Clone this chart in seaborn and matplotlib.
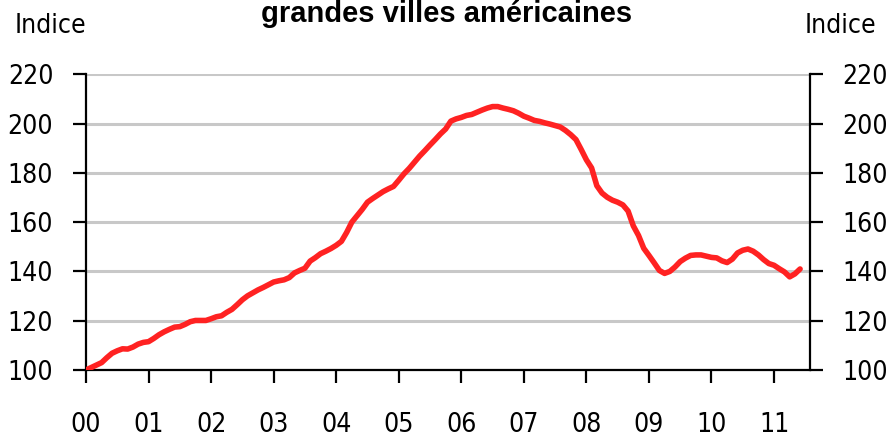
import matplotlib
matplotlib.use("Agg")
import matplotlib.pyplot as plt
import seaborn as sns
import pandas as pd
from matplotlib import font_manager

# Indice Case-Shiller 20 grandes villes (janv. 2000 = 100), mensuel
index_values = [
    100, 101, 102, 103, 105, 106.8, 107.8, 108.6, 108.5, 109.3, 110.5, 111.2,
    111.5, 112.8, 114.3, 115.5, 116.5, 117.4, 117.6, 118.5, 119.6, 120.1, 120.1, 120.1,
    120.8, 121.6, 122, 123.4, 124.6, 126.5, 128.5, 130.1, 131.3, 132.5, 133.5, 134.6,
    135.7, 136.2, 136.6, 137.5, 139.4, 140.4, 141.3, 144.2, 145.6, 147.2, 148.2, 149.3,
    150.6, 152.2, 155.8, 160, 162.6, 165.2, 168.1, 169.6, 171, 172.4, 173.5, 174.5,
    177, 179.6, 181.8, 184.3, 186.8, 189, 191.3, 193.5, 195.8, 197.8, 201, 201.9,
    202.5, 203.3, 203.7, 204.6, 205.5, 206.3, 206.9, 206.9, 206.3, 205.8, 205.2, 204.2,
    203, 202.2, 201.3, 200.9, 200.3, 199.8, 199.2, 198.6, 197.2, 195.5, 193.5, 189.5,
    185.3, 182, 174.8, 171.8, 170.1, 168.9, 168.1, 167, 164.5, 158.5, 154.6, 149.4,
    146.5, 143.5, 140.4, 139.2, 140, 141.8, 144, 145.4, 146.5, 146.7, 146.7, 146.2,
    145.7, 145.5, 144.3, 143.6, 145, 147.5, 148.6, 149.1, 148.2, 146.7, 144.8, 143.2,
    142.5, 141.1, 139.8, 137.8, 139, 141,
]
year_labels = ["00", "01", "02", "03", "04", "05", "06", "07", "08", "09", "10", "11"]
y_ticks = [100, 120, 140, 160, 180, 200, 220]

df = pd.DataFrame({"mois": range(len(index_values)), "indice": index_values})

sns.set_style("white")

# look for a narrow / condensed sans face, otherwise plain Liberation Sans
narrow_file = None
for f in font_manager.fontManager.ttflist:
    name = f.fname.lower()
    if ("narrow" in name or "condensed" in name) and "sans" in name \
            and "bold" not in name and "italic" not in name and "oblique" not in name \
            and "mono" not in name:
        narrow_file = f.fname
        break

if narrow_file:
    label_font = font_manager.FontProperties(fname=narrow_file, size=19)
else:
    label_font = font_manager.FontProperties(family=["Liberation Sans", "DejaVu Sans"], size=17)

plt.rcParams["font.family"] = ["Liberation Sans", "DejaVu Sans"]
plt.rcParams["text.color"] = "black"

fig = plt.figure(figsize=(8.94, 4.37), dpi=100)
ax = fig.add_axes([86 / 894, 1 - 370 / 437, (810 - 86) / 894, (370 - 74.3) / 437])

sns.lineplot(data=df, x="mois", y="indice", ax=ax, color="#FF2222",
             linewidth=4, solid_capstyle="round", zorder=3)

ax.set_xlim(0, 138.9)
ax.set_ylim(100, 220)
ax.set_xticks([12 * i for i in range(len(year_labels))])
ax.set_xticklabels(year_labels)
ax.set_yticks(y_ticks)
ax.set_xlabel("")
ax.set_ylabel("")

ax.yaxis.grid(True, color="#C8C8C8", linewidth=2.2)
ax.set_axisbelow(True)

for side in ["left", "right", "bottom"]:
    ax.spines[side].set_visible(True)
    ax.spines[side].set_color("black")
    ax.spines[side].set_linewidth(1.6)
ax.spines["top"].set_visible(False)

ax.tick_params(axis="y", which="both", direction="out", length=9.5, width=1.6,
               left=True, right=True, labelleft=True, labelright=True,
               colors="black", pad=14)
ax.tick_params(axis="x", direction="out", length=9.5, width=1.6,
               bottom=True, colors="black", pad=21)
for lab in ax.get_xticklabels() + ax.get_yticklabels() + ax.yaxis.get_ticklabels(which="both"):
    lab.set_fontproperties(label_font)
for t in ax.yaxis.get_major_ticks():
    t.label2.set_fontproperties(label_font)

fig.text(50 / 894, 1 - 33 / 437, "Indice", ha="center", va="baseline",
         fontproperties=label_font)
fig.text(840 / 894, 1 - 33 / 437, "Indice", ha="center", va="baseline",
         fontproperties=label_font)
fig.text(0.5, 1 - 22 / 437, "grandes villes américaines", ha="center", va="baseline",
         fontsize=21, fontweight="bold")

fig.savefig("out.png", dpi=100)
plt.close(fig)
